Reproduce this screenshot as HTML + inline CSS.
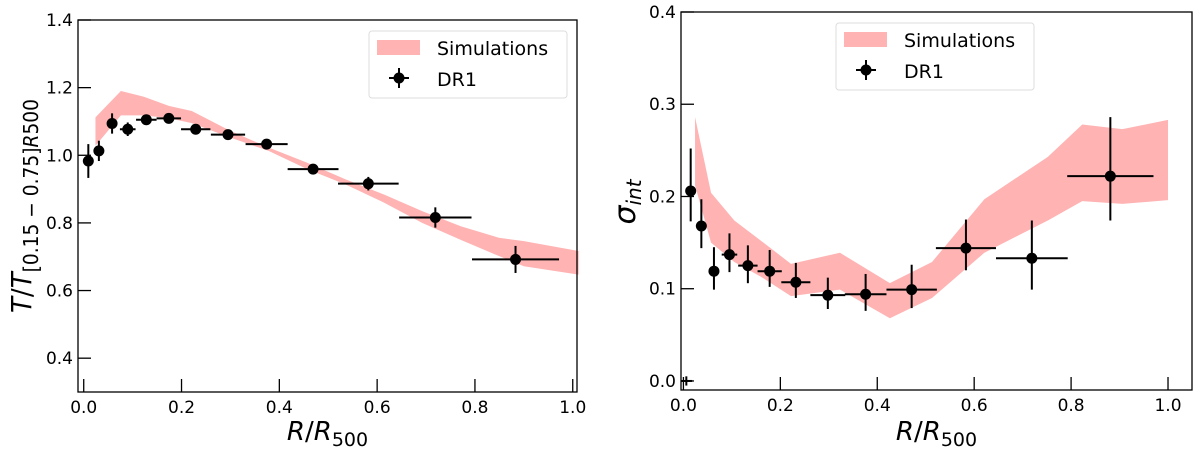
<!DOCTYPE html>
<html><head><meta charset="utf-8"><style>
body{margin:0;background:#fff;}
svg{display:block;font-family:"DejaVu Sans","Liberation Sans",sans-serif;}
</style></head><body>
<svg id="c" width="1200" height="457" viewBox="0 0 1200 457"></svg>
<script>
// Left panel data
const leftX = [0.0094,0.031,0.058,0.09,0.128,0.174,0.229,0.295,0.374,0.469,0.582,0.719,0.883];
const leftY = [0.983,1.013,1.094,1.077,1.105,1.109,1.077,1.061,1.033,0.959,0.916,0.816,0.692];
const leftYErr = [0.05,0.03,0.03,0.02,0.012,0.012,0.012,0.01,0.01,0.012,0.02,0.03,0.04];
const leftXErr = [0,0,0.01,0.016,0.021,0.025,0.03,0.035,0.043,0.052,0.062,0.074,0.089];
const leftBandX = [0.024,0.076,0.123,0.174,0.221,0.3,0.378,0.457,0.535,0.614,0.692,0.771,0.849,0.9,1.012];
const leftBandHi = [1.112,1.19,1.173,1.146,1.131,1.072,1.023,0.978,0.929,0.884,0.835,0.79,0.756,0.746,0.717];
const leftBandLo = [1.028,1.118,1.118,1.11,1.095,1.052,1.013,0.959,0.914,0.86,0.8,0.75,0.702,0.672,0.647];
const leftYTicks = [0.4,0.6,0.8,1.0,1.2,1.4];
const xTicks = [0.0,0.2,0.4,0.6,0.8,1.0];
// Right panel data
const rightX = [0.006,0.015,0.037,0.063,0.095,0.133,0.178,0.232,0.298,0.376,0.471,0.583,0.719,0.881];
const rightY = [0.0,0.206,0.168,0.119,0.137,0.125,0.119,0.107,0.093,0.094,0.099,0.144,0.133,0.222];
const rightYHi = [0.005,0.252,0.197,0.145,0.16,0.147,0.142,0.128,0.112,0.116,0.126,0.175,0.174,0.286];
const rightYLo = [-0.005,0.173,0.144,0.099,0.118,0.106,0.102,0.09,0.078,0.076,0.079,0.12,0.099,0.174];
const rightXErr = [0.012,0,0,0,0.016,0.02,0.025,0.03,0.036,0.043,0.052,0.062,0.074,0.089];
const rightBandX = [0.024,0.057,0.105,0.16,0.222,0.323,0.426,0.513,0.621,0.752,0.823,0.906,1.0];
const rightBandHi = [0.286,0.204,0.174,0.152,0.127,0.139,0.106,0.129,0.197,0.243,0.278,0.273,0.283];
const rightBandLo = [0.212,0.15,0.129,0.113,0.092,0.099,0.068,0.09,0.139,0.174,0.195,0.192,0.196];
const rightYTicks = [0.0,0.1,0.2,0.3,0.4];

const svg=document.getElementById('c');
const NS='http://www.w3.org/2000/svg';
function mk(tag,attrs,parent){const e=document.createElementNS(NS,tag);for(const k in attrs)e.setAttribute(k,attrs[k]);(parent||svg).appendChild(e);return e;}

function panel(cfg){
  const g=mk('g',{});
  
  
  const sx=v=>cfg.L+(v-cfg.x0)/(cfg.x1-cfg.x0)*(cfg.R-cfg.L);
  const sy=v=>cfg.B-(v-cfg.y0)/(cfg.y1-cfg.y0)*(cfg.B-cfg.T);
  let d='M'+cfg.bx.map((x,i)=>sx(x)+','+sy(cfg.bh[i])).join(' L');
  for(let i=cfg.bx.length-1;i>=0;i--)d+=' L'+sx(cfg.bx[i])+','+sy(cfg.bl[i]);
  const band=mk('path',{d:d+'Z',fill:'#ffb3b3'},g);
  
  
  cfg.px.forEach((x,i)=>{
    const pg=mk('g',{},g);
    
    
    const cx=sx(x),cy=sy(cfg.py[i]);
    mk('line',{x1:cx,x2:cx,y1:sy(cfg.hi[i]),y2:sy(cfg.lo[i]),stroke:'#000','stroke-width':2},pg);
    if(cfg.xe[i]>0)mk('line',{x1:sx(x-cfg.xe[i]),x2:sx(x+cfg.xe[i]),y1:cy,y2:cy,stroke:'#000','stroke-width':2},pg);
    if(!(cfg.small&&i===0))mk('circle',{cx:cx,cy:cy,r:5.5,fill:'#000'},pg);
  });
  const ax=mk('rect',{x:cfg.L,y:cfg.T,width:cfg.R-cfg.L,height:cfg.B-cfg.T,fill:'none',stroke:'#000','stroke-width':1.3},g);
  
  
  cfg.xt.forEach(v=>{
    const x=sx(v);
    mk('line',{x1:x,x2:x,y1:cfg.B,y2:cfg.B-13,stroke:'#000','stroke-width':1.3},g);
    const t=mk('text',{x:x,y:cfg.B+21,'font-size':17,'text-anchor':'middle'},g);
    t.textContent=v.toFixed(1);
    
    
  });
  cfg.yt.forEach(v=>{
    const y=sy(v);
    mk('line',{x1:cfg.L,x2:cfg.L+13,y1:y,y2:y,stroke:'#000','stroke-width':1.3},g);
    const t=mk('text',{x:cfg.L-5,y:y+6,'font-size':17,'text-anchor':'end'},g);
    t.textContent=v.toFixed(1);
    
    
  });
  const lg=mk('g',{},g);
  
  
  const lx=cfg.lx,ly=cfg.ly;
  mk('rect',{x:lx,y:ly,width:198,height:67,rx:3,fill:'#fff',stroke:'#ddd','stroke-width':1},lg);
  mk('rect',{x:lx+8,y:ly+9,width:43,height:15,fill:'#ffb3b3'},lg);
  let t=mk('text',{x:lx+68,y:ly+24,'font-size':19},lg);t.textContent='Simulations';
  
  
  mk('line',{x1:lx+20,x2:lx+40,y1:ly+47,y2:ly+47,stroke:'#000','stroke-width':2},lg);
  mk('line',{x1:lx+30,x2:lx+30,y1:ly+37,y2:ly+57,stroke:'#000','stroke-width':2},lg);
  mk('circle',{cx:lx+30,cy:ly+47,r:5.5,fill:'#000'},lg);
  t=mk('text',{x:lx+68,y:ly+55,'font-size':19},lg);t.textContent='DR1';
  
  
  const xl=mk('text',{x:(cfg.L+cfg.R)/2,y:440,'font-size':26,'text-anchor':'middle'},g);
  xl.innerHTML='<tspan font-style="italic">R</tspan>/<tspan font-style="italic">R</tspan><tspan font-size="19" dy="6">500</tspan>';
  
  
  const ya={x:0,y:0,'font-size':cfg.ylfs,'text-anchor':'middle',transform:'translate('+cfg.ylx+','+cfg.yly+') rotate(-90)'};
  if(cfg.ylen){ya.textLength=cfg.ylen;ya.lengthAdjust='spacingAndGlyphs';}
  const yl=mk('text',ya,g);
  yl.innerHTML=cfg.ylab;
  
  
}
panel({name:'left-panel',L:78,R:577,T:20,B:392,x0:-0.0117,x1:1.0087,y0:0.3,y1:1.4,
  bx:leftBandX,bh:leftBandHi,bl:leftBandLo,px:leftX,py:leftY,
  hi:leftY.map((v,i)=>v+leftYErr[i]),lo:leftY.map((v,i)=>v-leftYErr[i]),xe:leftXErr,
  xt:xTicks,yt:leftYTicks,lx:369,ly:31,ylx:31,yly:206,ylfs:28,ylen:214,
  ylab:'<tspan font-style="italic">T</tspan>/<tspan font-style="italic">T</tspan><tspan font-size="20" dy="7">[0.15 − 0.75]<tspan font-style="italic">R</tspan>500</tspan>'});
panel({name:'right-panel',L:681,R:1192,T:12,B:390,x0:-0.005,x1:1.0495,y0:-0.0098,y1:0.4,small:true,
  bx:rightBandX,bh:rightBandHi,bl:rightBandLo,px:rightX,py:rightY,hi:rightYHi,lo:rightYLo,xe:rightXErr,
  xt:xTicks,yt:rightYTicks,lx:836,ly:23,ylx:635,yly:202,ylfs:30,
  ylab:'<tspan font-style="italic">σ</tspan><tspan font-size="20" dy="6" font-style="italic">int</tspan>'});
</script>
</body></html>
